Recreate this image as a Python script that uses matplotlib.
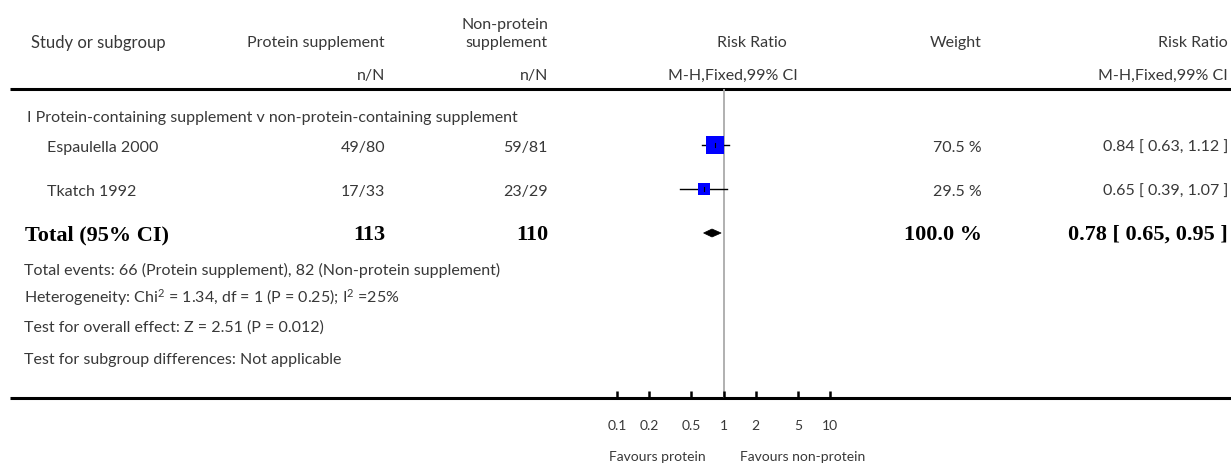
import numpy as np
import matplotlib
matplotlib.use("Agg")
import matplotlib.pyplot as plt
from matplotlib.patches import Polygon

plt.rcParams["mathtext.fontset"] = "custom"
plt.rcParams["mathtext.rm"] = "Lato"
plt.rcParams["mathtext.it"] = "Lato"
plt.rcParams["mathtext.default"] = "rm"

# study data
studies = ["Espaulella 2000", "Tkatch 1992"]
events_p = [49, 17]
total_p = [80, 33]
events_c = [59, 23]
total_c = [81, 29]
weights = [70.5, 29.5]
rr = [0.84, 0.65]
lo = [0.63, 0.39]
hi = [1.12, 1.07]

# pooled
pooled_rr, pooled_lo, pooled_hi = 0.78, 0.65, 0.95
pooled_n_p, pooled_n_c = 113, 110

tick_vals = [0.1, 0.2, 0.5, 1, 2, 5, 10]
tick_labels = ["0.1", "0.2", "0.5", "1", "2", "5", "10"]

footer = [
    "Total events: 66 (Protein supplement), 82 (Non-protein supplement)",
    "Heterogeneity: Chi$^{2}$ = 1.34, df = 1 (P = 0.25); I$^{2}$ =25%",
    "Test for overall effect: Z = 2.51 (P = 0.012)",
    "Test for subgroup differences: Not applicable",
]

W, H = 1231, 463
fig = plt.figure(figsize=(W / 100, H / 100), dpi=100)
bg = fig.add_axes([0, 0, 1, 1])
bg.set_xlim(0, W)
bg.set_ylim(H, 0)
bg.axis("off")

sans = dict(family=["Lato", "DejaVu Sans"], color="#383838", fontsize=11.5)
serif = dict(family=["Liberation Serif", "DejaVu Serif"], fontweight="bold", color="black", fontsize=16)

# header
bg.text(31, 43, "Study or subgroup", va="center", ha="left", **dict(sans, fontsize=12))
bg.text(385, 43, "Protein supplement", va="center", ha="right", **sans)
bg.text(548, 25, "Non-protein", va="center", ha="right", **sans)
bg.text(548, 43, "supplement", va="center", ha="right", **sans)
bg.text(385, 76, "n/N", va="center", ha="right", **sans)
bg.text(548, 76, "n/N", va="center", ha="right", **sans)
bg.text(787, 43, "Risk Ratio", va="center", ha="right", **sans)
bg.text(798, 76, "M-H,Fixed,99% CI", va="center", ha="right", **sans)
bg.text(982, 43, "Weight", va="center", ha="right", **sans)
bg.text(1228, 43, "Risk Ratio", va="center", ha="right", **sans)
bg.text(1228, 76, "M-H,Fixed,99% CI", va="center", ha="right", **sans)

bg.plot([10, W], [89, 89], color="black", lw=2.2, solid_capstyle="butt")
bg.plot([10, W], [398, 398], color="black", lw=2.2, solid_capstyle="butt")

bg.text(27, 118, "I Protein-containing supplement v non-protein-containing supplement",
        va="center", ha="left", **sans)

row_y = [146, 190]
for i, name in enumerate(studies):
    y = row_y[i] + 2
    bg.text(47, y, name, va="center", ha="left", **sans)
    bg.text(385, y, f"{events_p[i]}/{total_p[i]}", va="center", ha="right", **sans)
    bg.text(548, y, f"{events_c[i]}/{total_c[i]}", va="center", ha="right", **sans)
    bg.text(982, y, f"{weights[i]:.1f} %", va="center", ha="right", **sans)
    bg.text(1228, y, f"{rr[i]:.2f} [ {lo[i]:.2f}, {hi[i]:.2f} ]", va="center", ha="right", **sans)

tot_y = 235
bg.text(25, tot_y, "Total (95% CI)", va="center", ha="left", **serif)
bg.text(385, tot_y, str(pooled_n_p), va="center", ha="right", **serif)
bg.text(548, tot_y, str(pooled_n_c), va="center", ha="right", **serif)
bg.text(982, tot_y, f"{sum(weights):.1f} %", va="center", ha="right", **serif)
bg.text(1228, tot_y, f"{pooled_rr:.2f} [ {pooled_lo:.2f}, {pooled_hi:.2f} ]", va="center", ha="right", **serif)

# baselines for footer lines
foot_base = [275, 303, 332, 364]
for y, t in zip(foot_base, footer):
    bg.text(24, y, t, va="baseline", ha="left", **sans)

small = dict(sans, fontsize=10)
bg.text(657, 457, "Favours protein", va="center", ha="center", **small)
bg.text(803, 457, "Favours non-protein", va="center", ha="center", **small)

# forest panel
x0, x1 = 617, 830
ax = fig.add_axes([x0 / W, (H - 398) / H, (x1 - x0) / W, (398 - 89) / H])
ax.patch.set_alpha(0)
ax.set_xscale("log")
ax.set_xlim(0.1, 10)
ax.set_ylim(398, 89)
for s in ax.spines.values():
    s.set_visible(False)
ax.set_yticks([])
ax.minorticks_off()
ax.set_xticks(tick_vals)
ax.set_xticklabels(tick_labels, family=["Lato", "DejaVu Sans"], fontsize=10, color="#383838")
ax.tick_params(axis="x", direction="in", length=5, width=1.8, pad=16, color="black")

ax.axvline(1, color="#aaaaaa", lw=1.3, zorder=1)

for i in range(len(studies)):
    y = row_y[i] - 1
    ax.plot([lo[i], hi[i]], [y, y], color="black", lw=1, zorder=2, clip_on=False)
    side = 18 * np.sqrt(weights[i] / max(weights)) * 0.72
    ax.plot([rr[i]], [y], marker="s", ms=side, color="#0000ff", mec="#0000ff", mew=0, zorder=3, clip_on=False)
    ax.plot([rr[i], rr[i]], [y - 2, y + 2], color="black", lw=0.8, zorder=4)

dy = 233
diamond = Polygon([(pooled_lo, dy), (pooled_rr, dy - 4), (pooled_hi, dy), (pooled_rr, dy + 4)],
                  closed=True, facecolor="black", edgecolor="black", lw=0.5, zorder=3)
ax.add_patch(diamond)

fig.savefig("out.png", dpi=100)
